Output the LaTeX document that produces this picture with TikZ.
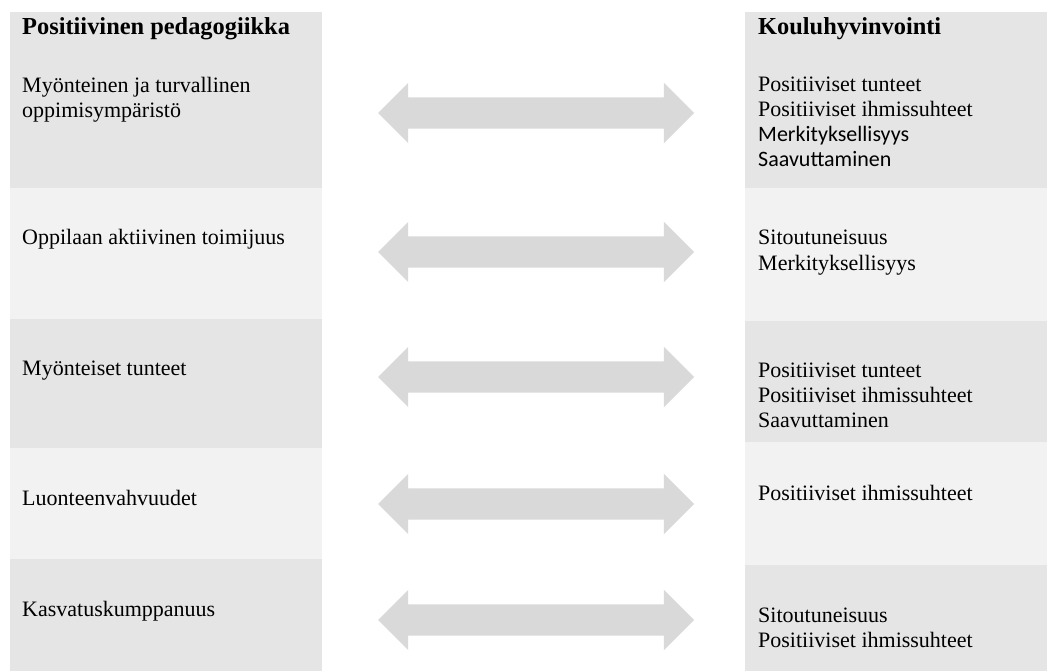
\documentclass[tikz,border=0pt]{standalone}
\usepackage{fontspec}
\setmainfont{Liberation Serif}
\newfontfamily\carlito{Carlito}
\usetikzlibrary{shapes.arrows}
\definecolor{tumma}{HTML}{E6E5E6}
\definecolor{vaalea}{HTML}{F2F2F2}
\definecolor{nuolenharmaa}{HTML}{D9D9D9}

\begin{document}
\begin{tikzpicture}[x=1pt, y=-1pt,
 laatikko/.style = {rectangle, inner sep=0pt, anchor=north west},
   teksti/.style = {anchor=base west, inner sep=0pt, align=left,
                    font=\fontsize{22}{25}\selectfont},
  otsikko/.style = {anchor=base west, inner sep=0pt,
                    font=\fontsize{24.4}{28}\selectfont\bfseries},
    nuoli/.style = {double arrow, fill=nuolenharmaa, inner xsep=0pt,
                    inner ysep=15.5pt, minimum height=316pt,
                    double arrow head extend=14.5pt}
                   ]
\useasboundingbox (0,0) rectangle (1047,671);
% rivit
\foreach \i/\yla/\ala/\vari in {1/12/188/tumma, 2/188/319/vaalea,
        3/319/448/tumma, 4/448/559/vaalea, 5/559/671/tumma}
    \node[laatikko, fill=\vari, minimum width=312pt,
          minimum height={(\ala-\yla)*1pt}] (v\i) at (10,\yla) {};
\foreach \i/\yla/\ala/\vari in {1/12/188/tumma, 2/188/321/vaalea,
        3/321/442/tumma, 4/442/565/vaalea, 5/565/671/tumma}
    \node[laatikko, fill=\vari, minimum width=302pt,
          minimum height={(\ala-\yla)*1pt}] (o\i) at (745,\yla) {};
% positiivinen pedagogiikka (monirivisissa base = viimeinen rivi)
\node[otsikko] (vo) at (22,35) {Positiivinen pedagogiikka};
\node[teksti] (vt1) at (22,118) {Myönteinen ja turvallinen\\oppimisympäristö};
\node[teksti] (vt2) at (22,244) {Oppilaan aktiivinen toimijuus};
\node[teksti] (vt3) at (22,375) {Myönteiset tunteet};
\node[teksti] (vt4) at (22,505) {Luonteenvahvuudet};
\node[teksti] (vt5) at (22,616) {Kasvatuskumppanuus};
% kouluhyvinvointi
\node[otsikko] (oo) at (758,35) {Kouluhyvinvointi};
\node[teksti] (ot1) at (758,167) {Positiiviset tunteet\\Positiiviset ihmissuhteet\\
    {\carlito Merkityksellisyys}\\{\carlito Saavuttaminen}};
\node[teksti] (ot2) at (758,270) {Sitoutuneisuus\\Merkityksellisyys};
\node[teksti] (ot3) at (758,427) {Positiiviset tunteet\\Positiiviset ihmissuhteet\\Saavuttaminen};
\node[teksti] (ot4) at (758,500) {Positiiviset ihmissuhteet};
\node[teksti] (ot5) at (758,647) {Sitoutuneisuus\\Positiiviset ihmissuhteet};
% nuolet
\foreach \i/\y in {1/113, 2/252, 3/377, 4/504, 5/620}
    \node[nuoli] (n\i) at (536,\y) {};
\end{tikzpicture}
\end{document}
